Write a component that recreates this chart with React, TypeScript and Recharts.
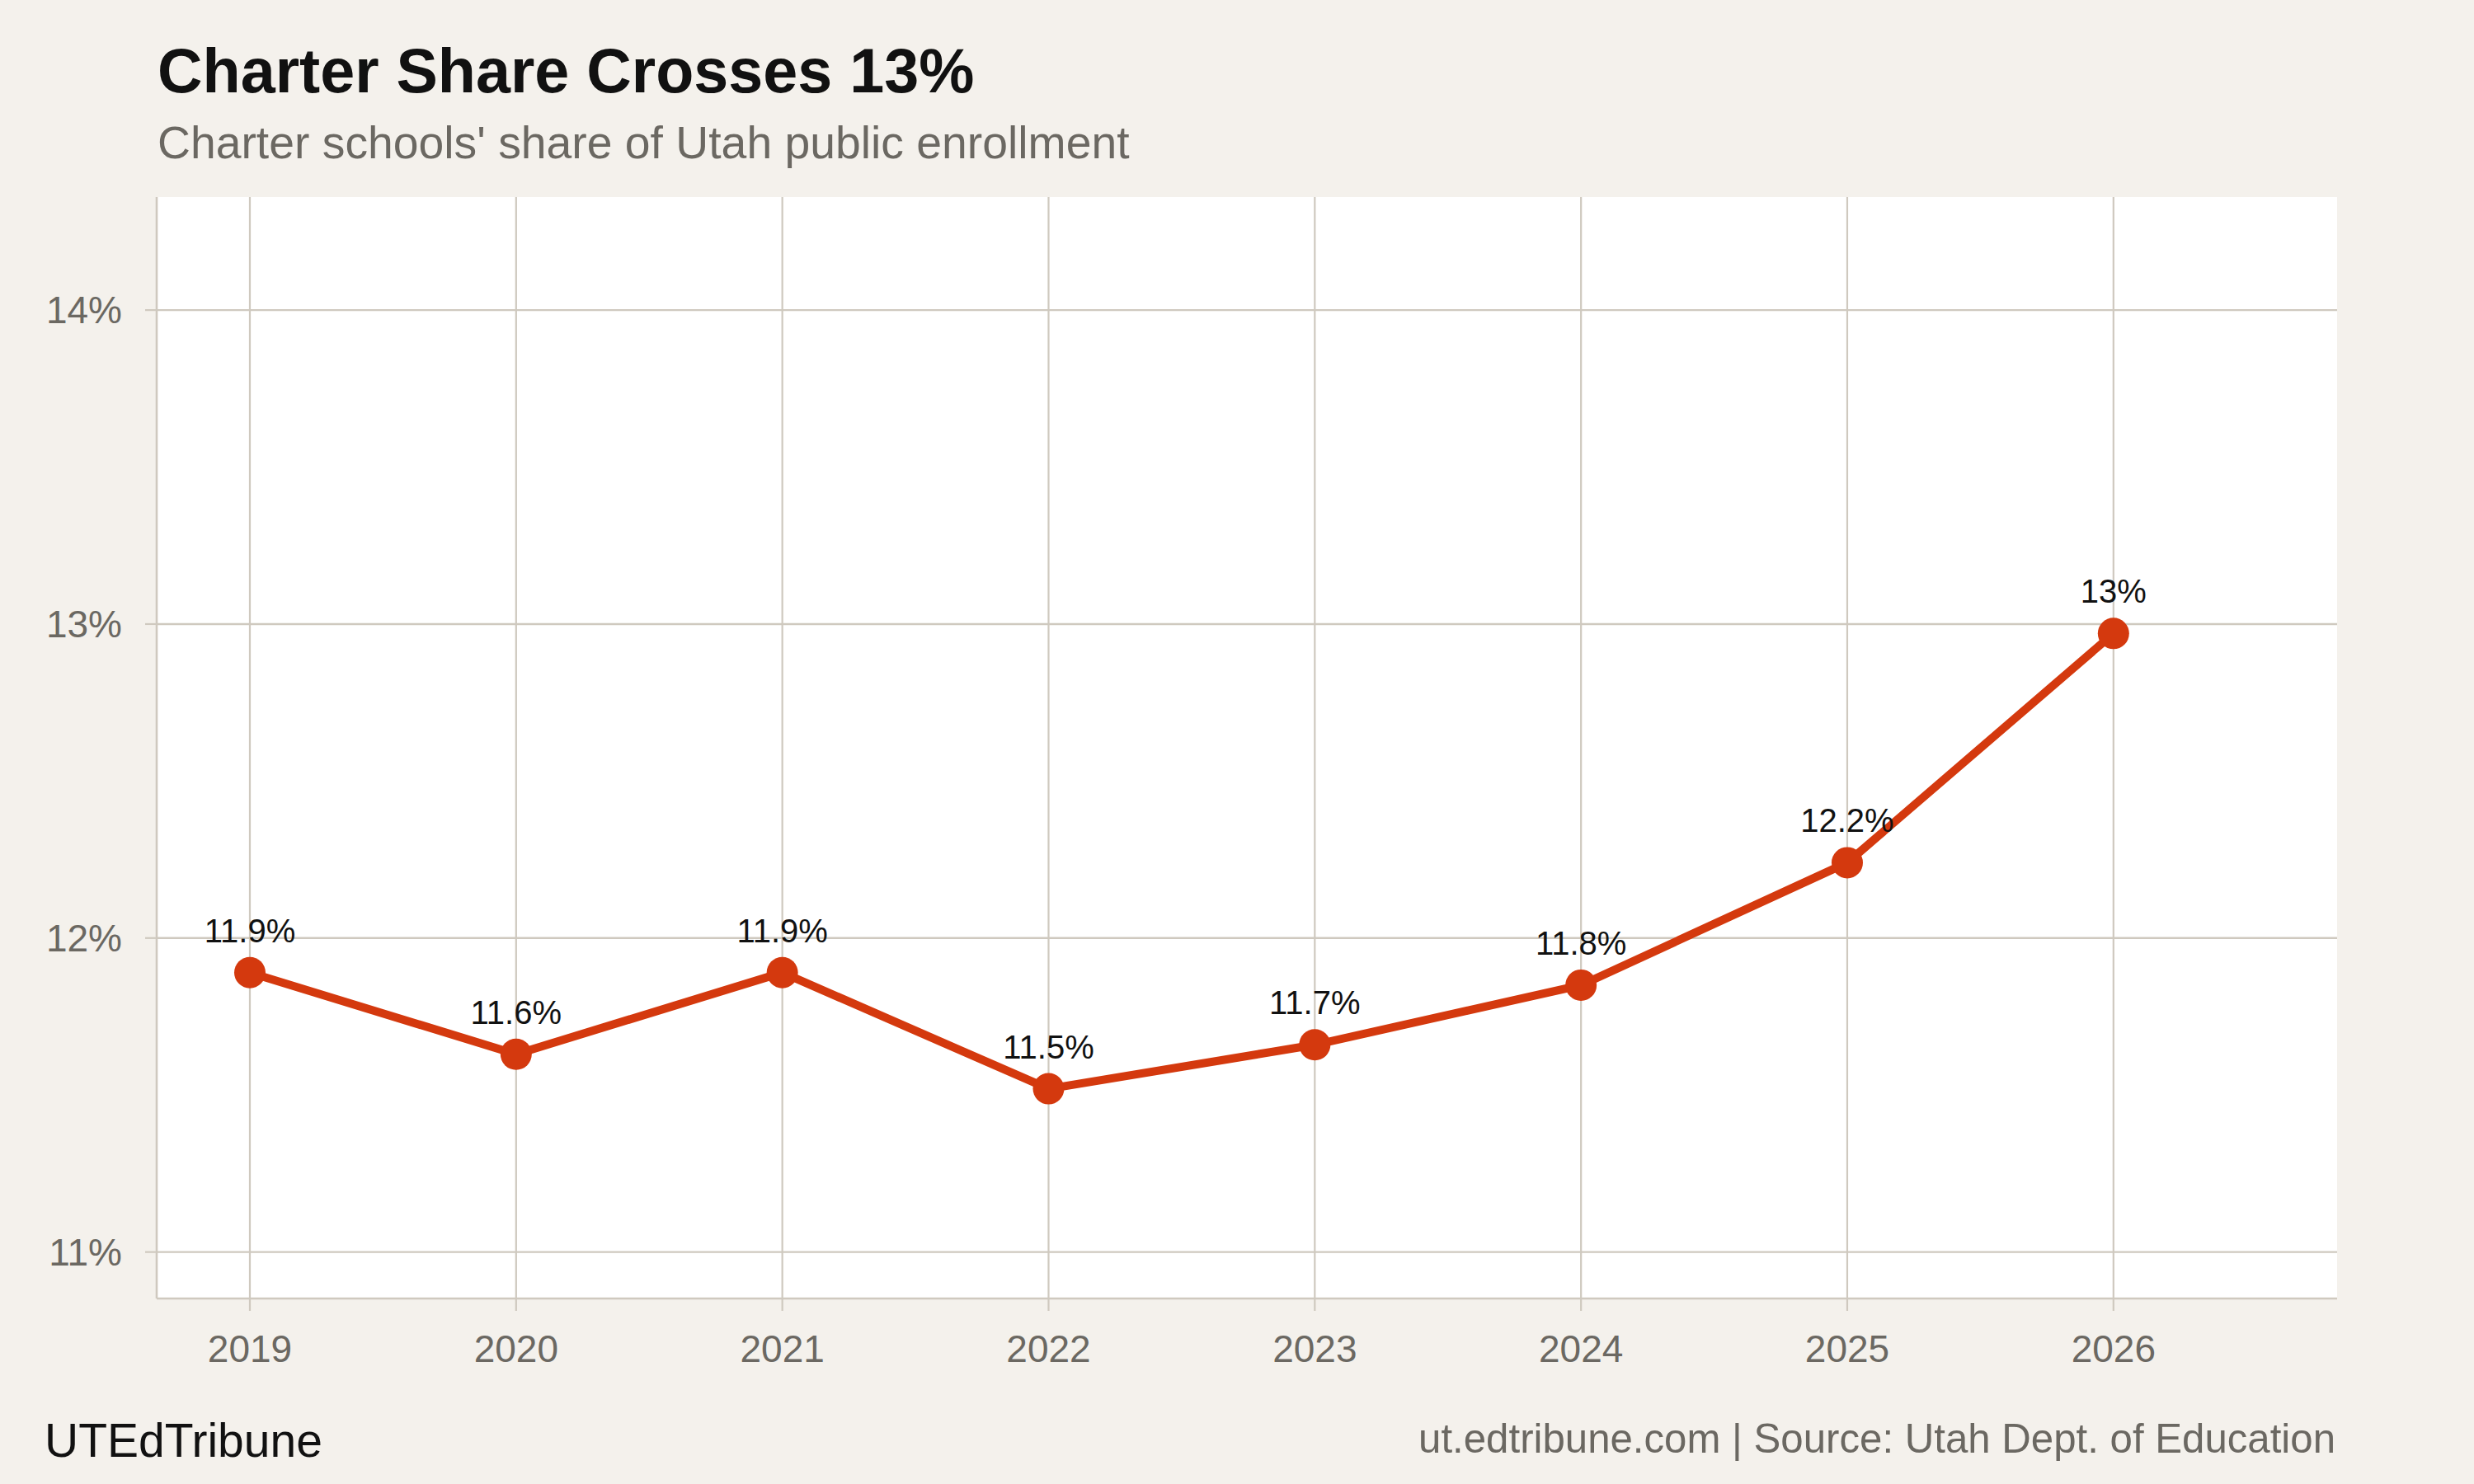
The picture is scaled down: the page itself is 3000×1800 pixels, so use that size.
import React from "react";
import { LineChart, Line, XAxis, YAxis, CartesianGrid, LabelList, ReferenceLine } from "recharts";

const years = [2019, 2020, 2021, 2022, 2023, 2024, 2025, 2026];
const shares = [11.89, 11.63, 11.89, 11.52, 11.66, 11.85, 12.24, 12.97];
const shareLabels = ["11.9%", "11.6%", "11.9%", "11.5%", "11.7%", "11.8%", "12.2%", "13%"];
const yTicks = [11, 12, 13, 14];

const data = years.map((year, i) => ({ year, share: shares[i], label: shareLabels[i] }));

const FONT = "'Liberation Sans', Arial, Helvetica, sans-serif";
const BG = "#f4f1ec";
const GRID = "#cfc9bf";
const MUTED = "#6b6862";
const LINE = "#d4390e";

export default function App() {
  return (
    <div style={{ position: "absolute", left: 0, top: 0, width: 3000, height: 1800, background: BG, fontFamily: FONT }}>
      <LineChart
        width={3000}
        height={1800}
        data={data}
        margin={{ top: 239, right: 166, bottom: 125, left: 0 }}
      >
        <CartesianGrid fill="#ffffff" stroke="none" strokeWidth={0} horizontal={false} vertical={false} />
        {yTicks.map((v) => (
          <ReferenceLine key={`h${v}`} y={v} stroke={GRID} strokeWidth={2.4} />
        ))}
        {years.map((v) => (
          <ReferenceLine key={`v${v}`} x={v} stroke={GRID} strokeWidth={2.2} />
        ))}
        <XAxis
          type="number"
          dataKey="year"
          domain={[2018.65, 2026.84]}
          ticks={years}
          allowDataOverflow
          interval={0}
          tickFormatter={(v) => String(v)}
          height={100}
          tickSize={15}
          tickMargin={29}
          axisLine={{ stroke: GRID, strokeWidth: 2.6 }}
          tickLine={{ stroke: GRID, strokeWidth: 2.2 }}
          tick={{ fill: MUTED, fontSize: 46, fontFamily: FONT }}
        />
        <YAxis
          type="number"
          domain={[10.852, 14.36]}
          ticks={yTicks}
          allowDataOverflow
          interval={0}
          tickFormatter={(v) => `${v}%`}
          width={190}
          tickSize={14}
          tickMargin={28}
          axisLine={{ stroke: GRID, strokeWidth: 2.6 }}
          tickLine={{ stroke: GRID, strokeWidth: 2.2 }}
          tick={{ fill: MUTED, fontSize: 46, fontFamily: FONT }}
        />
        <Line
          type="linear"
          dataKey="share"
          stroke={LINE}
          strokeWidth={10}
          dot={{ r: 19, fill: LINE, stroke: LINE, strokeWidth: 0 }}
          activeDot={false}
          isAnimationActive={false}
        >
          <LabelList dataKey="label" position="top" offset={37} fill="#111111" fontSize={40} fontFamily={FONT} />
        </Line>
      </LineChart>
      <svg
        width={3000}
        height={1800}
        style={{ position: "absolute", left: 0, top: 0, pointerEvents: "none" }}
      >
        <text x={191} y={112} fontFamily={FONT} fontSize={75.5} fontWeight="bold" fill="#111111">
          Charter Share Crosses 13%
        </text>
        <text x={191} y={192} fontFamily={FONT} fontSize={55.3} fill={MUTED}>
          Charter schools' share of Utah public enrollment
        </text>
        <text x={54} y={1767} fontFamily={FONT} fontSize={57} fill="#111111">
          UTEdTribune
        </text>
        <text x={2832} y={1762} fontFamily={FONT} fontSize={49.2} fill={MUTED} textAnchor="end">
          ut.edtribune.com | Source: Utah Dept. of Education
        </text>
      </svg>
    </div>
  );
}
